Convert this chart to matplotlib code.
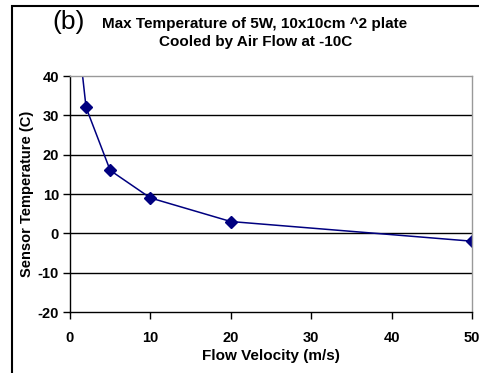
import matplotlib
matplotlib.use("Agg")
from matplotlib import pyplot as plt
from matplotlib.patches import Rectangle

plt.rcParams['font.family'] = ['Liberation Sans', 'DejaVu Sans']
plt.rcParams['axes.unicode_minus'] = False

velocity = [1, 2, 5, 10, 20, 50]
temperature = [50.5, 32, 16, 9, 3, -2]
y_ticks = [-20, -10, 0, 10, 20, 30, 40]
x_ticks = [0, 10, 20, 30, 40, 50]

W, H = 479, 373
fig = plt.figure(figsize=(W / 100, H / 100), dpi=100)
ax = fig.add_axes([70 / W, 1 - 312 / H, (472 - 70) / W, (312 - 76) / H])

# outer chart border (runs off the right and bottom edges)
fig.patches.append(Rectangle((12 / W, -0.1), 1.2, 1 - 6 / H + 0.1,
                             transform=fig.transFigure, fill=False,
                             edgecolor='black', linewidth=1.5))

ax.plot(velocity, temperature, color='#000080', linewidth=1.1,
        marker='D', markersize=6, markerfacecolor='#000080',
        markeredgecolor='#000080', clip_on=True)

ax.set_xlim(0, 50)
ax.set_ylim(-20, 40)
ax.set_xticks(x_ticks)
ax.set_yticks(y_ticks)
for y in y_ticks[1:-1]:
    ax.axhline(y, color='black', linewidth=1.0, zorder=0)

for side in ['top', 'right']:
    ax.spines[side].set_color('#999999')
for side in ['left', 'bottom']:
    ax.spines[side].set_color('black')
for sp in ax.spines.values():
    sp.set_linewidth(1.0)

ax.tick_params(direction='out', length=5, width=1, labelsize=10.5)
ax.tick_params(axis='x', pad=9)
ax.tick_params(axis='y', pad=3)
for lbl in ax.get_xticklabels() + ax.get_yticklabels():
    lbl.set_fontweight('bold')

ax.set_xlabel("Flow Velocity (m/s)", fontsize=11, fontweight='bold')
ax.xaxis.set_label_coords(0.5, (312 - 356) / (312 - 76))
ax.xaxis.label.set_va('center')
ax.set_ylabel("Sensor Temperature (C)", fontsize=10.5, fontweight='bold')
ax.yaxis.set_label_coords((27 - 70) / (472 - 70), 0.5)
ax.yaxis.label.set_va('center')

fig.text(52 / W, 1 - 22 / H, "(b)", fontsize=19, va='center', ha='left')
fig.text(255 / W, 1 - 24 / H, "Max Temperature of 5W, 10x10cm ^2 plate",
         fontsize=11, fontweight='bold', va='center', ha='center')
fig.text(256 / W, 1 - 42 / H, "Cooled by Air Flow at -10C",
         fontsize=11, fontweight='bold', va='center', ha='center')

fig.savefig("out.png", dpi=100)
